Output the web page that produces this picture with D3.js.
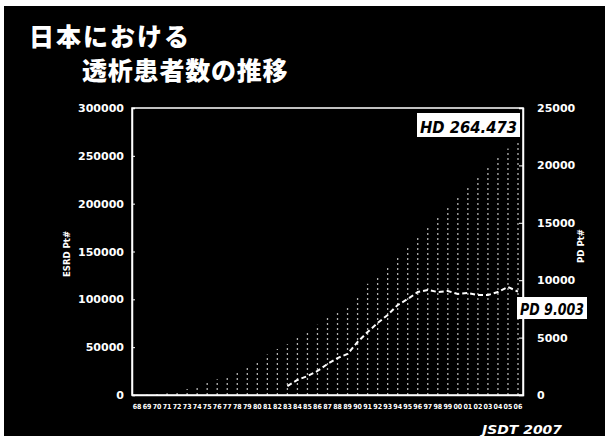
<!DOCTYPE html>
<html>
<head>
<meta charset="utf-8">
<script src="https://cdn.jsdelivr.net/npm/d3@7"></script>
<style>
  html, body { margin: 0; padding: 0; background: #fff; }
  svg { display: block; }
</style>
</head>
<body>
<svg id="chart" width="605" height="439"></svg>
<script>
// Year-end dialysis patients in Japan
const years = d3.range(1968, 2007);
const esrdPatients = [
  215, 430, 949, 1826, 3631, 6148, 9000, 13059, 16500, 20700,
  25000, 30000, 36397, 42223, 48000, 53017, 59811, 66310, 73537, 80553,
  88534, 92000, 103296, 116303, 123926, 134298, 143709, 154413, 167192, 175988,
  185322, 197213, 206134, 219183, 229538, 237710, 248166, 257765, 264473
];
const pdYears = d3.range(1983, 2007);
const pdPatients = [
  780, 1310, 1650, 2090, 2700, 3220, 3570, 4620, 5490, 6270,
  6970, 7840, 8360, 8970, 9150, 8970, 9060, 8800, 8890, 8710,
  8710, 8970, 9410, 9003
];
const leftTicks = [0, 50000, 100000, 150000, 200000, 250000, 300000];
const rightTicks = [0, 5000, 10000, 15000, 20000, 25000];
const titleLines = ["日本における", "透析患者数の推移"];
const hdLabel = "HD 264.473";
const pdLabel = "PD 9.003";

const svg = d3.select("#chart");
const W = 605, H = 439;
const plot = { left: 132, right: 523, top: 108, bottom: 395 };

// dark slide background
svg.append("rect").attr("x", 4).attr("y", 6).attr("width", W - 4).attr("height", 430)
  .attr("fill", "#000");

// title
const title = svg.append("g").attr("fill", "#fff")
  .style("font-family", "'Noto Sans CJK JP', sans-serif").style("font-weight", 900)
  .style("font-size", "25px");
title.append("text").attr("x", 29).attr("y", 46).attr("letter-spacing", 2).text(titleLines[0]);
title.append("text").attr("x", 82).attr("y", 80).attr("letter-spacing", 0.8).text(titleLines[1]);

// scales
const x = d3.scaleBand().domain(years).range([plot.left, plot.right]).padding(0);
const yL = d3.scaleLinear().domain([0, 300000]).range([plot.bottom, plot.top]);
const yR = d3.scaleLinear().domain([0, 25000]).range([plot.bottom, plot.top]);
const cx = d => x(d) + x.bandwidth() / 2;

// frame
svg.append("rect").attr("x", plot.left).attr("y", plot.top)
  .attr("width", plot.right - plot.left).attr("height", plot.bottom - plot.top)
  .attr("fill", "none").attr("stroke", "#fff").attr("stroke-width", 1.5);

// total patients: thin grainy bars
svg.append("g").selectAll("line").data(years).join("line")
  .attr("x1", d => cx(d)).attr("x2", d => cx(d))
  .attr("y1", plot.bottom).attr("y2", (d, i) => yL(esrdPatients[i]))
  .attr("stroke", "#fff").attr("stroke-width", 1.3)
  .attr("stroke-dasharray", "2,3").attr("opacity", 0.7);

// PD patients line
const line = d3.line().x(d => cx(d[0])).y(d => yR(d[1]));
svg.append("path").datum(pdYears.map((y, i) => [y, pdPatients[i]]))
  .attr("d", line).attr("fill", "none").attr("stroke", "#fff")
  .attr("stroke-width", 2).attr("stroke-dasharray", "5,3");

// axes
const tickFont = sel => sel.selectAll("text")
  .attr("fill", "#fff").style("font-family", "'DejaVu Sans', sans-serif")
  .style("font-weight", "bold").style("font-size", "11px");

const gL = svg.append("g").attr("transform", `translate(${plot.left},0)`)
  .call(d3.axisLeft(yL).tickValues(leftTicks).tickSize(-3).tickPadding(8).tickFormat(d3.format("d")));
gL.select(".domain").attr("stroke", "#fff").attr("stroke-width", 1.5);
gL.selectAll(".tick line").attr("stroke", "#fff");
tickFont(gL);

const gR = svg.append("g").attr("transform", `translate(${plot.right},0)`)
  .call(d3.axisRight(yR).tickValues(rightTicks).tickSize(-4).tickPadding(14).tickFormat(d3.format("d")));
gR.select(".domain").attr("stroke", "#fff").attr("stroke-width", 1.5);
gR.selectAll(".tick line").attr("stroke", "#fff");
tickFont(gR);

const gB = svg.append("g").attr("transform", `translate(0,${plot.bottom})`)
  .call(d3.axisBottom(x).tickSize(0).tickPadding(9).tickFormat(d => String(d).slice(2)));
gB.select(".domain").attr("stroke", "#fff").attr("stroke-width", 1.5);
gB.selectAll("text").attr("fill", "#fff")
  .style("font-family", "'DejaVu Sans Condensed', 'DejaVu Sans', sans-serif")
  .style("font-weight", "bold").style("font-size", "7px");

// axis titles
const axisTitle = (xp, yp, txt) => svg.append("text")
  .attr("transform", `translate(${xp},${yp}) rotate(-90)`)
  .attr("text-anchor", "middle").attr("fill", "#fff")
  .style("font-family", "'DejaVu Sans Condensed', 'DejaVu Sans', sans-serif")
  .style("font-weight", "bold").style("font-size", "9.5px").text(txt);
axisTitle(70, 254, "ESRD Pt#");
axisTitle(584, 246, "PD Pt#");

// value callouts
const callout = (x0, y0, w, h, txt) => {
  svg.append("rect").attr("x", x0).attr("y", y0).attr("width", w).attr("height", h)
    .attr("fill", "#fff");
  svg.append("text").attr("x", x0 + 3).attr("y", y0 + h - 4)
    .attr("textLength", w - 6).attr("lengthAdjust", "spacingAndGlyphs")
    .attr("fill", "#000")
    .style("font-family", "'DejaVu Sans Condensed', 'DejaVu Sans', sans-serif")
    .style("font-weight", "bold").style("font-style", "italic").style("font-size", "16px")
    .text(txt);
};
callout(417, 113, 103, 24, hdLabel);
callout(517, 297, 70, 22, pdLabel);

// source mark
svg.append("text").attr("x", 482).attr("y", 434).attr("fill", "#fff")
  .attr("textLength", 80).attr("lengthAdjust", "spacingAndGlyphs")
  .style("font-family", "'DejaVu Sans Condensed', 'DejaVu Sans', sans-serif")
  .style("font-weight", "bold").style("font-style", "italic").style("font-size", "13px")
  .text("JSDT 2007");
</script>
</body>
</html>
